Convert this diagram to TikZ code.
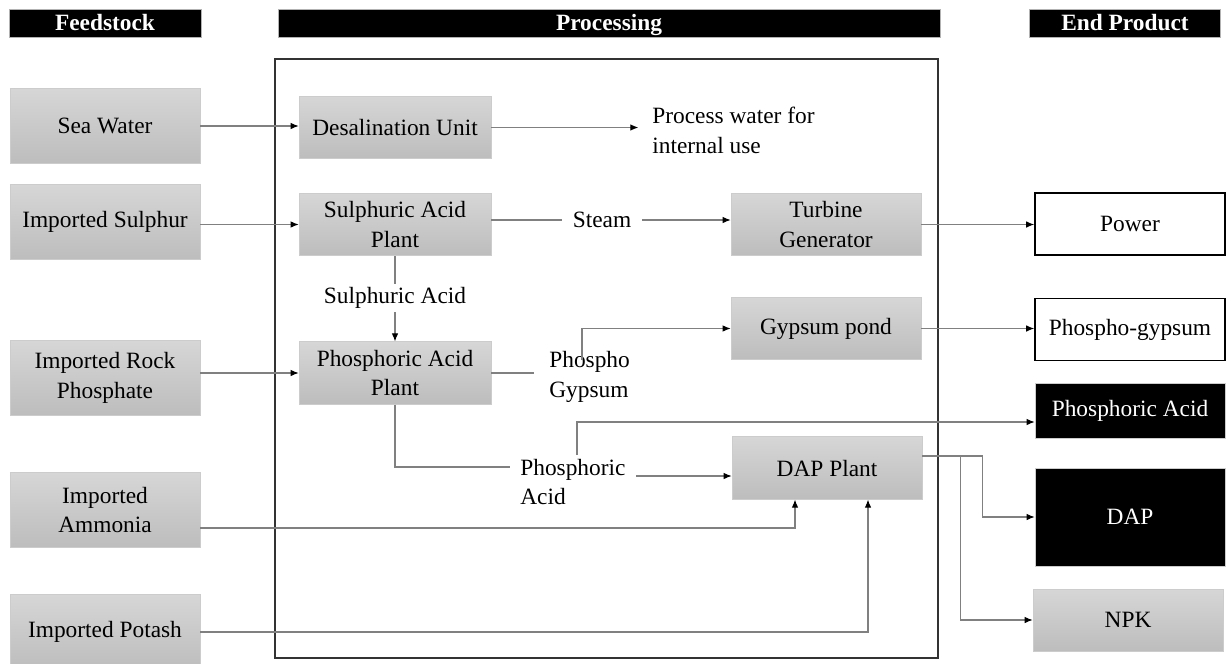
\documentclass[tikz,border=0pt]{standalone}
\usepackage{fontspec}
\setmainfont{Liberation Serif}
\usetikzlibrary{arrows.meta,calc}
\begin{document}
\begin{tikzpicture}[x=0.02cm,y=-0.02cm,
  every node/.style={font=\fontsize{13.3}{17}\selectfont},
  headbar/.style={fill=black,draw=gray!60,text=white,font=\fontsize{13.3}{17}\selectfont\bfseries,minimum height=0.56cm,inner sep=0pt,text height=8.8pt,text depth=0pt},
  feedbox/.style={draw=gray!40,top color=gray!32,bottom color=gray!52,align=center,minimum width=3.8cm,minimum height=1.5cm,inner sep=1pt},
  procbox/.style={draw=gray!40,top color=gray!32,bottom color=gray!52,align=center,minimum width=3.84cm,minimum height=1.25cm,inner sep=1pt},
  prodwhite/.style={draw=black,line width=0.9pt,fill=white,minimum width=3.8cm,minimum height=1.24cm},
  prodblack/.style={draw=gray!40,fill=black,text=white,minimum width=3.8cm},
  flow/.style={draw=black!50,line width=0.6pt},
  tip/.style={-{Latex[black,length=1.6mm,width=1.3mm]}}]
\useasboundingbox (0,0) rectangle (1226,663);
% column headings
\node[headbar,minimum width=3.84cm] (hFeed) at (105,23) {Feedstock};
\node[headbar,minimum width=13.24cm] (hProc) at (609,23) {Processing};
\node[headbar,minimum width=3.82cm] (hEnd) at (1125,23) {End Product};
% processing frame
\draw[line width=0.8pt,black!80] (275,59) rectangle (938,658);
% feedstock
\node[feedbox] (sea) at (105,126) {Sea Water};
\node[feedbox] (sulph) at (105,222) {Imported Sulphur};
\node[feedbox] (rock) at (105,378) {Imported Rock\\Phosphate};
\node[feedbox] (amm) at (105,510) {Imported\\Ammonia};
\node[feedbox] (potash) at (105,632) {Imported Potash};
% processing units
\node[procbox] (desal) at (395,127.5) {Desalination Unit};
\node[procbox] (sap) at (395,224.5) {Sulphuric Acid\\Plant};
\node[procbox] (pap) at (395,373) {Phosphoric Acid\\Plant};
\node[procbox,minimum width=3.8cm] (turb) at (826,224.5) {Turbine\\Generator};
\node[procbox,minimum width=3.8cm] (gyp) at (826,328.5) {Gypsum pond};
\node[procbox,minimum width=3.8cm] (dap) at (827,468) {DAP Plant};
% end products
\node[prodwhite] (power) at (1130,224) {Power};
\node[prodwhite] (pgyp) at (1130,329.5) {Phospho-gypsum};
\node[prodblack,minimum height=1.1cm] (phosacid) at (1130,410.5) {Phosphoric Acid};
\node[prodblack,minimum height=1.96cm] (dapout) at (1130,517) {DAP};
\node[feedbox,minimum height=1.24cm] (npk) at (1128,620) {NPK};
% stream labels
\node[anchor=west,align=left,inner sep=0pt] (water) at (652,130) {Process water for\\internal use};
\node[inner sep=6pt] (steam) at (602,220) {Steam};
\node[inner sep=2pt] (sacid) at (395,298) {Sulphuric Acid};
\node[anchor=west,align=left,inner sep=0pt] (pgtxt) at (549,377) {Phospho\\Gypsum};
\node[anchor=west,align=left,inner sep=0pt] (patxt) at (520,482) {Phosphoric\\Acid};
\coordinate (pgup) at (582,360);
\coordinate (paline) at (510,467);
\coordinate (pafrom) at (636,476);
\coordinate (paup) at (577,455);
\coordinate (dapsplit) at ($(dap.east)+(0,-12)$);
% connectors
\draw[flow,tip] (sea.east) -- (sea.east -| desal.west);
\draw[flow,tip] (desal.east) -- ++(147,0);
\draw[flow,tip] (sulph.east |- sap) -- (sap.west);
\draw[flow] (sap.east |- steam) -- (steam.west);
\draw[flow,tip] (steam.east) -- (steam.east -| turb.west);
\draw[flow] (sap.south) -- (sacid.north);
\draw[flow,tip] (sacid.south) -- (pap.north);
\draw[flow,tip] (rock.east |- pap) -- (pap.west);
\draw[flow] (pap.east) -- ++(43,0);
\draw[flow,tip] (pgup) |- (gyp.west);
\draw[flow] (pap.south) |- (paline);
\draw[flow,tip] (pafrom) -- (pafrom -| dap.west);
\draw[flow,tip] (paup) |- ($(phosacid.west)+(0,11.5)$);
\draw[flow,tip] ($(amm.east)+(0,18)$) -| ($(dap.south)+(-32,0)$);
\draw[flow,tip] (potash.east) -| ($(dap.south)+(41,0)$);
\draw[flow,tip] (turb.east) -- (turb.east -| power.west);
\draw[flow,tip] (gyp.east) -- (gyp.east -| pgyp.west);
\draw[flow,tip] (dapsplit) -- ++(60,0) |- (dapout.west);
\draw[flow,tip] (dapsplit) -- ++(38,0) |- (npk.west);
\end{tikzpicture}
\end{document}
